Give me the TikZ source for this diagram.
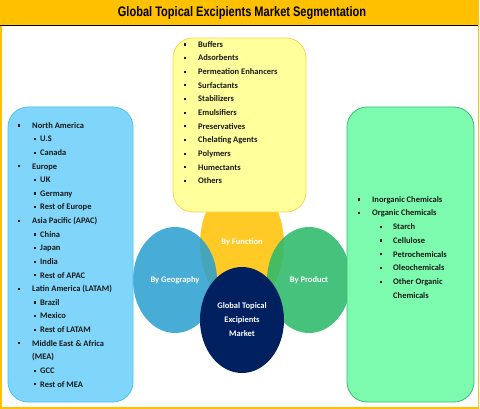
\documentclass[tikz,border=0pt]{standalone}
\usepackage{fontspec}
\setmainfont{Carlito}
\newfontfamily\titlefont[FakeStretch=0.8]{Liberation Sans}
\usetikzlibrary{shapes.geometric}

\definecolor{barorange}{HTML}{FFC000}
\definecolor{geofill}{HTML}{80D6FA}
\definecolor{geoline}{HTML}{4FBFEE}
\definecolor{fnfill}{HTML}{FFFF9C}
\definecolor{fnline}{HTML}{FFD24D}
\definecolor{prodfill}{HTML}{7CFBAE}
\definecolor{prodline}{HTML}{3CB878}
\definecolor{fnell}{HTML}{FFC926}
\definecolor{geoell}{HTML}{2EA1D0}
\definecolor{prodell}{HTML}{2CBA6B}
\definecolor{navy}{HTML}{002060}

\newcommand{\bul}[1]{\makebox[#1][l]{\rule[1.7pt]{2.2pt}{2.2pt}}}

\tikzset{
  item/.style={anchor=west, inner sep=0pt, text height=6pt, text depth=1.5pt,
    font=\bfseries\fontsize{8.5}{10}\selectfont, text=black!90},
  bulA/.style={execute at begin node={\bul{14pt}}},
  bulB/.style={execute at begin node={\bul{6pt}}},
  bulC/.style={execute at begin node={\bul{13pt}}},
  nobul/.style={},
  segbox/.style={line width=0.8pt, rounded corners=20pt},
  seg/.style={ellipse, minimum width=84pt, minimum height=106pt, inner sep=0pt,
    text=white, font=\bfseries\fontsize{8.5}{14}\selectfont, align=center}
}

\begin{document}
\begin{tikzpicture}[x=1pt,y=-1pt]
\useasboundingbox (0,0) rectangle (480,409);
% frame and title
\fill[barorange] (0,0) rectangle (479,25);
\draw[barorange, line width=1.5pt] (0.75,0.75) rectangle (478.5,408);
\draw[line width=1.2pt] (0,25.6) -- (478,25.6);
\node[font=\titlefont\bfseries\fontsize{13.8}{14}\selectfont] (title) at (242,13) {Global Topical Excipients Market Segmentation};

% segments
\node[seg, fill=fnell, minimum height=124pt] (func) at (242,244) {};
\node[seg, fill=geoell, fill opacity=0.88, text opacity=1] (geo) at (175,280) {By Geography};
\node[seg, fill=prodell, fill opacity=0.88, text opacity=1] (prod) at (309,280) {By Product};

% boxes
\draw[segbox, draw=geoline, fill=geofill] (8,107) rectangle (133,402);
\draw[segbox, draw=fnline, fill=fnfill] (173,38) rectangle (306,212);
\draw[segbox, draw=prodline, fill=prodfill] (347,107) rectangle (474,402);

\node[font=\bfseries\fontsize{8.5}{10}\selectfont, text=white] (funclabel) at (242,242) {By Function};
\node[seg, fill=navy] (market) at (242,320) {Global Topical\\Excipients\\Market};

% by function
\foreach \txt [count=\i] in {Buffers, Adsorbents, Permeation Enhancers, Surfactants,
  Stabilizers, Emulsifiers, Preservatives, Chelating Agents, Polymers, Humectants, Others}
  \node[item, bulA] (fn\i) at (184,{45+13.65*(\i-1)}) {\txt};

% by geography
\foreach \x/\s/\txt [count=\i] in {18/bulA/North America, 34/bulB/U.S, 34/bulB/Canada,
  18/bulA/Europe, 34/bulB/UK, 34/bulB/Germany, 34/bulB/Rest of Europe,
  18/bulA/Asia Pacific (APAC), 34/bulB/China, 34/bulB/Japan, 34/bulB/India, 34/bulB/Rest of APAC,
  18/bulA/Latin America (LATAM), 34/bulB/Brazil, 34/bulB/Mexico, 34/bulB/Rest of LATAM,
  18/bulA/Middle East \& Africa, 32/nobul/(MEA), 34/bulB/GCC, 34/bulB/Rest of MEA}
  \node[item, \s] (gl\i) at (\x,{126+13.62*(\i-1)}) {\txt};

% by product
\foreach \x/\s/\txt [count=\i] in {358/bulA/Inorganic Chemicals, 358/bulA/Organic Chemicals,
  380/bulC/Starch, 380/bulC/Cellulose, 380/bulC/Petrochemicals, 380/bulC/Oleochemicals,
  380/bulC/Other Organic, 393/nobul/Chemicals}
  \node[item, \s] (pl\i) at (\x,{200+13.7*(\i-1)}) {\txt};
\end{tikzpicture}
\end{document}
